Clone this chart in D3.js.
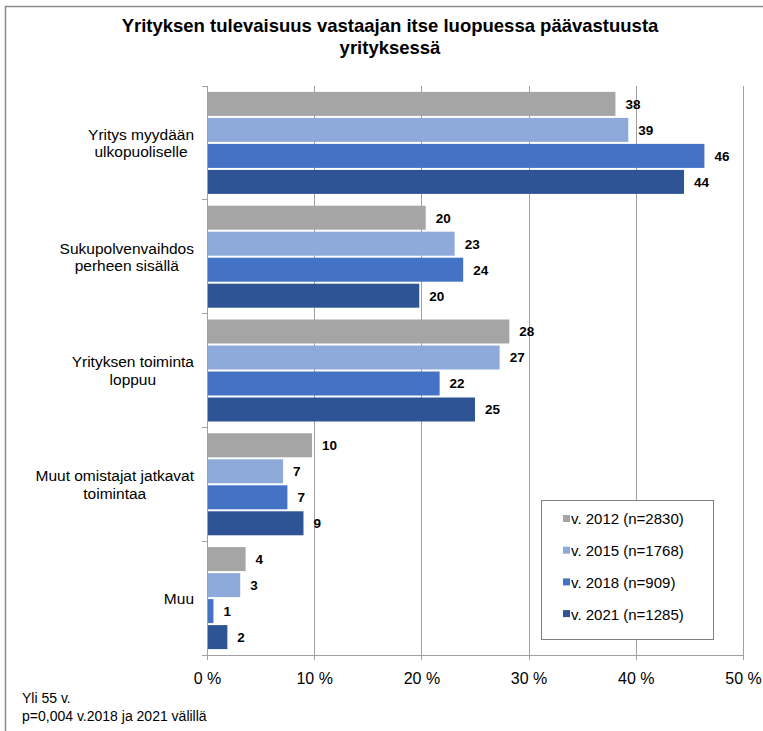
<!DOCTYPE html>
<html>
<head>
    <meta charset="utf-8">
    <title>Yrityksen tulevaisuus</title>
    <script src="https://d3js.org/d3.v7.min.js"></script>
    <style type="text/css">
        body { margin: 0; background: #fff; font-family: "Liberation Sans", Arial, sans-serif; }
        .grid line { stroke: #a0a0a0; stroke-width: 1; shape-rendering: crispEdges; }
        .axis path, .axis line { fill: none; stroke: #a0a0a0; shape-rendering: crispEdges; }
        .axis text { font-family: "Liberation Sans Narrow", "Liberation Sans", Arial, sans-serif; font-size: 16px; fill: #000; }
        .cat-label { font-size: 15.5px; fill: #000; }
        .val-label { font-size: 13.5px; font-weight: bold; fill: #000; }
        .legend text { font-size: 15px; fill: #000; }
        .note { font-family: "Liberation Sans Narrow", "Liberation Sans", Arial, sans-serif; font-size: 14px; fill: #000; }
    </style>
</head>
<body>
<svg id="chart" width="763" height="731"></svg>
<script>
    var categories = [
        ["Yritys myydään", "ulkopuoliselle"],
        ["Sukupolvenvaihdos", "perheen sisällä"],
        ["Yrityksen toiminta", "loppuu"],
        ["Muut omistajat jatkavat", "toimintaa"],
        ["Muu"]
    ];
    var seriesNames = ["v. 2012 (n=2830)", "v. 2015 (n=1768)", "v. 2018 (n=909)", "v. 2021 (n=1285)"];
    var v2012 = [38.1, 20.4, 28.2, 9.8, 3.6];
    var v2015 = [39.3, 23.1, 27.3, 7.1, 3.1];
    var v2018 = [46.4, 23.9, 21.7, 7.5, 0.6];
    var v2021 = [44.5, 19.8, 25.0, 9.0, 1.9];
    var labels2012 = [38, 20, 28, 10, 4];
    var labels2015 = [39, 23, 27, 7, 3];
    var labels2018 = [46, 24, 22, 7, 1];
    var labels2021 = [44, 20, 25, 9, 2];
    var xTicks = [0, 10, 20, 30, 40, 50];
    var colors = ["#a5a5a5", "#8eaadb", "#4472c4", "#2f5496"];

    var seriesValues = [v2012, v2015, v2018, v2021];
    var seriesLabels = [labels2012, labels2015, labels2018, labels2021];

    var svg = d3.select("#chart");

    // outer frame (only top/left visible in the picture)
    svg.append("rect")
        .attr("x", 5.5).attr("y", 6.5)
        .attr("width", 800).attr("height", 800)
        .attr("fill", "none").attr("stroke", "#8a8a8a").attr("stroke-width", 1.5);

    svg.append("text")
        .attr("x", 390).attr("y", 32)
        .attr("text-anchor", "middle")
        .style("font-size", "18.5px").style("font-weight", "bold")
        .text("Yrityksen tulevaisuus vastaajan itse luopuessa päävastuusta");
    svg.append("text")
        .attr("x", 390).attr("y", 54)
        .attr("text-anchor", "middle")
        .style("font-size", "18.5px").style("font-weight", "bold")
        .text("yrityksessä");

    var margin = { top: 86, left: 207, right: 20, bottom: 76 };
    var width = 743 - margin.left,
        height = 655 - margin.top;

    var g = svg.append("g")
        .attr("transform", "translate(" + margin.left + "," + margin.top + ")");

    var xScale = d3.scaleLinear().domain([0, 50]).range([0, width]);
    var yScale = d3.scaleBand().domain(d3.range(categories.length)).range([0, height]);
    var ySub = d3.scaleBand().domain(d3.range(seriesNames.length))
        .range([0, yScale.bandwidth()])
        .paddingInner(0.077).paddingOuter(0.227);

    g.append("g").attr("class", "grid")
        .selectAll("line")
        .data(xTicks.slice(1))
        .enter().append("line")
        .attr("x1", function(d) { return Math.round(xScale(d)) + 0.5; })
        .attr("x2", function(d) { return Math.round(xScale(d)) + 0.5; })
        .attr("y1", 0).attr("y2", height);

    categories.forEach(function(cat, ci) {
        seriesValues.forEach(function(vals, si) {
            var y = yScale(ci) + ySub(si);
            g.append("rect")
                .attr("x", xScale(0))
                .attr("y", y)
                .attr("width", xScale(vals[ci]) - xScale(0))
                .attr("height", ySub.bandwidth())
                .attr("fill", colors[si]);
            g.append("text")
                .attr("class", "val-label")
                .attr("x", xScale(vals[ci]) + 10)
                .attr("y", y + ySub.bandwidth() / 2)
                .attr("dy", "0.36em")
                .text(seriesLabels[si][ci]);
        });
    });

    // x axis
    g.append("g").attr("class", "axis")
        .attr("transform", "translate(0," + height + ")")
        .call(d3.axisBottom(xScale).tickValues(xTicks)
            .tickSize(5).tickSizeOuter(0).tickPadding(13)
            .tickFormat(function(d) { return d + " %"; }));

    // y axis with ticks at category boundaries
    var yAxis = g.append("g").attr("class", "axis");
    yAxis.append("line").attr("x1", 0.5).attr("x2", 0.5).attr("y1", 0).attr("y2", height);
    yAxis.selectAll("line.tk")
        .data(d3.range(categories.length + 1))
        .enter().append("line").attr("class", "tk")
        .attr("x1", -5).attr("x2", 0)
        .attr("y1", function(d) { return d < categories.length ? yScale(d) : height; })
        .attr("y2", function(d) { return d < categories.length ? yScale(d) : height; });

    // category labels: block right aligned, lines centered
    categories.forEach(function(lines, ci) {
        var t = svg.append("text").attr("class", "cat-label").attr("text-anchor", "middle");
        var cy = margin.top + yScale(ci) + yScale.bandwidth() / 2;
        var lh = 17.5;
        lines.forEach(function(line, li) {
            t.append("tspan").text(line)
                .attr("y", cy + (li - (lines.length - 1) / 2) * lh)
                .attr("dy", "0.36em");
        });
        var w = 0;
        t.selectAll("tspan").each(function() { w = Math.max(w, this.getComputedTextLength()); });
        t.selectAll("tspan").attr("x", 194 - w / 2);
    });

    // legend
    var lg = svg.append("g").attr("class", "legend");
    lg.append("rect")
        .attr("x", 541.5).attr("y", 500.5)
        .attr("width", 172).attr("height", 139)
        .attr("fill", "#fff").attr("stroke", "#7f7f7f");
    seriesNames.forEach(function(name, i) {
        var yy = 519 + i * 31.7;
        lg.append("rect")
            .attr("x", 563).attr("y", yy - 4).attr("width", 7).attr("height", 7)
            .attr("fill", colors[i]);
        lg.append("text")
            .attr("x", 571).attr("y", yy).attr("dy", "0.36em")
            .text(name);
    });

    svg.append("text").attr("class", "note").attr("x", 22).attr("y", 703).text("Yli 55 v.");
    svg.append("text").attr("class", "note").attr("x", 22).attr("y", 721).text("p=0,004 v.2018 ja 2021 välillä");
</script>
</body>
</html>
